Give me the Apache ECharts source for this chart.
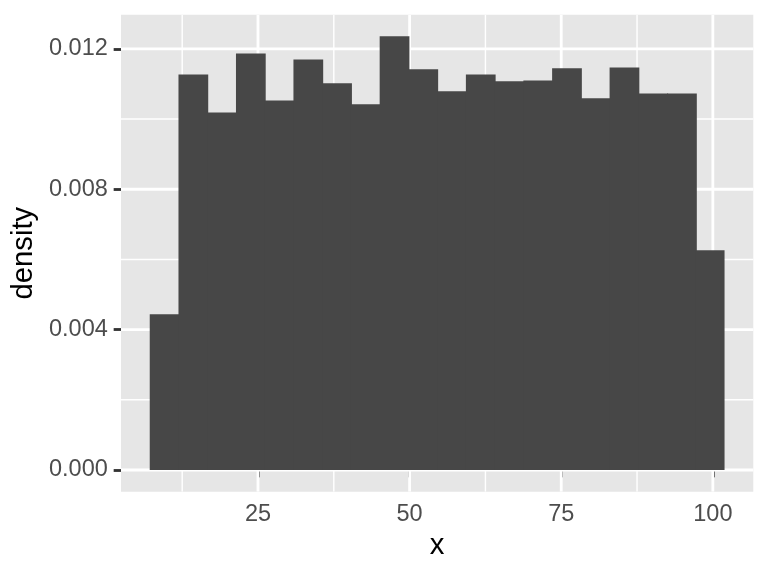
<!DOCTYPE html>
<html>
<head>
<meta charset="utf-8">
<script src="https://cdn.jsdelivr.net/npm/echarts@6/dist/echarts.min.js"></script>
<style>
html,body{margin:0;padding:0;background:#ffffff;}
#chart{width:768px;height:576px;}
</style>
</head>
<body>
<div id="chart"></div>
<script>
// Histogram bin edges (x units)
var binEdges = [7.15, 11.889, 16.628, 21.367, 26.106, 30.845, 35.584, 40.323, 45.062, 49.801,
  54.54, 59.279, 64.018, 68.757, 73.496, 78.235, 82.974, 87.713, 92.452, 97.191, 101.93];
// Density of each bin
var densities = [0.00444, 0.01127, 0.01019, 0.01187, 0.01053, 0.01170, 0.01102, 0.01042, 0.01236, 0.01142,
  0.01079, 0.01127, 0.01108, 0.01110, 0.01145, 0.01059, 0.01147, 0.01073, 0.01073, 0.00626];
// Tick labels / grid breaks
var xTicks = [25, 50, 75, 100];
var xMinor = [12.5, 37.5, 62.5, 87.5];
var yTicks = [0, 0.004, 0.008, 0.012];
var yMinor = [0.002, 0.006, 0.010];

var xMin = 2.411, xMax = 106.67;
var yMin = -0.000618, yMax = 0.012974;

var barData = densities.map(function (d, i) { return [binEdges[i], binEdges[i + 1], d]; });

function gridSeries(values, dir, width, z) {
  return {
    type: 'custom', silent: true, z: z, animation: false,
    data: values.map(function (v) { return [v]; }),
    encode: dir === 'v' ? { x: 0 } : { y: 0 },
    clip: true,
    renderItem: function (params, api) {
      var cs = params.coordSys;
      var v = api.value(0);
      var shape;
      if (dir === 'v') {
        var px = api.coord([v, 0])[0];
        shape = { x1: px, y1: cs.y, x2: px, y2: cs.y + cs.height };
      } else {
        var py = api.coord([xMin, v])[1];
        shape = { x1: cs.x, y1: py, x2: cs.x + cs.width, y2: py };
      }
      return { type: 'line', shape: shape, style: { stroke: '#ffffff', lineWidth: width } };
    }
  };
}

var barColor = '#474747';
var chart = echarts.init(document.getElementById('chart'), null, { renderer: 'canvas' });
var font = '"Liberation Sans", Arial, Helvetica, sans-serif';
chart.setOption({
  animation: false,
  backgroundColor: '#ffffff',
  grid: { left: 121, right: 14.7, top: 14.7, bottom: 84.3, show: true, backgroundColor: '#E6E6E6', borderWidth: 0 },
  xAxis: {
    type: 'value', min: xMin, max: xMax,
    name: 'x', nameLocation: 'middle', nameGap: 37,
    nameTextStyle: { color: '#000000', fontSize: 29.3, fontFamily: font },
    axisLine: { show: false },
    splitLine: { show: false },
    axisTick: { show: true, customValues: xTicks, length: 7.33, lineStyle: { color: '#333333', width: 2.84 } },
    axisLabel: { customValues: xTicks, margin: 11, color: '#4D4D4D', fontSize: 23.5, fontFamily: font,
      formatter: function (v) { return String(v); } }
  },
  yAxis: {
    type: 'value', min: yMin, max: yMax,
    name: 'density', nameLocation: 'middle', nameGap: 82, nameRotate: 90,
    nameTextStyle: { color: '#000000', fontSize: 29.3, fontFamily: font },
    axisLine: { show: false },
    splitLine: { show: false },
    axisTick: { show: true, customValues: yTicks, length: 7.33, lineStyle: { color: '#333333', width: 2.84 } },
    axisLabel: { customValues: yTicks, margin: 13.2, color: '#4D4D4D', fontSize: 23.5, fontFamily: font,
      formatter: function (v) { return v.toFixed(3); } }
  },
  series: [
    gridSeries(xMinor, 'v', 1.42, 1),
    gridSeries(yMinor, 'h', 1.42, 1),
    gridSeries(xTicks, 'v', 2.84, 2),
    gridSeries(yTicks, 'h', 2.84, 2),
    {
      type: 'custom', z: 5, animation: false,
      data: barData,
      encode: { x: [0, 1], y: 2 },
      renderItem: function (params, api) {
        var p0 = api.coord([api.value(0), api.value(2)]);
        var p1 = api.coord([api.value(1), 0]);
        var overlap = params.dataIndex < barData.length - 1 ? 1 : 0;
        return { type: 'rect', shape: { x: p0[0], y: p0[1], width: p1[0] - p0[0] + overlap, height: p1[1] - p0[1] },
          style: { fill: barColor } };
      }
    }
  ]
});
</script>
</body>
</html>
